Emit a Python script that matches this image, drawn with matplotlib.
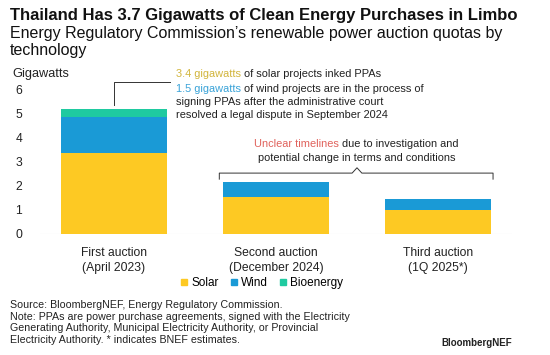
import matplotlib
matplotlib.use("Agg")
import matplotlib.pyplot as plt
from matplotlib.lines import Line2D
import numpy as np

plt.rcParams['font.family'] = ['Liberation Sans', 'DejaVu Sans']

# Data (GW)
auctions = ["First auction\n(April 2023)", "Second auction\n(December 2024)", "Third auction\n(1Q 2025*)"]
solar = [3.37, 1.55, 1.0]
wind = [1.49, 0.6, 0.45]
bioenergy = [0.32, 0.0, 0.0]
yticks = [0, 1, 2, 3, 4, 5, 6]

c_solar = "#fdc923"
c_wind = "#1a9ad6"
c_bio = "#1fcaa0"
c_text = "#222222"

W, H = 550, 355
fig = plt.figure(figsize=(W / 100, H / 100), dpi=100)


def px(x, y):
    return x / W, 1 - y / H


# axes placed so that 0 sits at y=234px and 6 at y=89px
ax = fig.add_axes([40 / W, 1 - 234 / H, 472 / W, (234 - 89) / H])
x = np.arange(len(auctions))
w = 0.66
ax.bar(x, solar, w, color=c_solar, label="Solar")
ax.bar(x, wind, w, bottom=solar, color=c_wind, label="Wind")
bot = np.array(solar) + np.array(wind)
ax.bar(x, bioenergy, w, bottom=bot, color=c_bio, label="Bioenergy")

ax.set_xlim(-0.457, 2.457)
ax.set_ylim(0, 6)
ax.set_yticks(yticks)
ax.set_xticks(x)
ax.set_xticklabels(auctions, fontsize=8.7, linespacing=1.35)
for s in ax.spines.values():
    s.set_visible(False)
ax.tick_params(axis='both', length=0, labelsize=8.7, colors=c_text)
ax.tick_params(axis='y', pad=13)
ax.tick_params(axis='x', pad=9)
ax.axhline(0, color="#e6e6e6", lw=0.8, zorder=0)

# leader line for first auction
top1 = bot[0] + bioenergy[0]
ax.plot([x[0], x[0], x[0] + 0.346], [top1 + 0.15, 6.28, 6.28], color="#333333", lw=0.7, clip_on=False)

# bracket over second and third auction
bl = x[1] - w / 2 - 0.02
br = x[2] + w / 2 + 0.01
bm = (x[1] + x[2]) / 2
by = 2.52
ax.plot([bl, bl, bm - 0.03, bm, bm + 0.03, br, br],
        [by - 0.25, by, by, by + 0.22, by, by, by - 0.25],
        color="#333333", lw=0.7, clip_on=False)

# title and subtitle
fig.text(*px(10, 15.5), "Thailand Has 3.7 Gigawatts of Clean Energy Purchases in Limbo",
         fontsize=12, fontweight='bold', va='center', ha='left', color="#111111")
fig.text(*px(10, 42), "Energy Regulatory Commission\u2019s renewable power auction quotas by\ntechnology",
         fontsize=11.5, va='center', ha='left', linespacing=1.12, color="#111111")
fig.text(*px(12, 74), "Gigawatts", fontsize=9.2, va='center', ha='left', color=c_text)


def colored(xp, yp, first, rest, color, size=7.95):
    t1 = fig.text(*px(xp, yp), first, color=color, fontsize=size, va='baseline', ha='left')
    ax.annotate(" " + rest, xy=(1, 0), xycoords=t1, fontsize=size, va='bottom', ha='left',
                annotation_clip=False, color=c_text)
    return t1


colored(176, 77, "3.4 gigawatts", "of solar projects inked PPAs", "#d2b53c")
colored(176, 91.5, "1.5 gigawatts", "of wind projects are in the process of", "#3aa3d8")
fig.text(*px(176, 105), "signing PPAs after the administrative court", fontsize=7.95,
         va='baseline', ha='left', color=c_text)
fig.text(*px(176, 118), "resolved a legal dispute in September 2024", fontsize=7.95,
         va='baseline', ha='left', color=c_text)

# centred two-colour line: measure widths first
fig.canvas.draw()
r = fig.canvas.get_renderer()
ta = fig.text(0, 0, "Unclear timelines", fontsize=7.95, color="#e0625c")
tb = fig.text(0, 0, " due to investigation and", fontsize=7.95, color=c_text)
wa = ta.get_window_extent(r).width
wb = tb.get_window_extent(r).width
x0 = 356.5 - (wa + wb) / 2
ta.set_position(px(x0, 147))
ta.set_va('baseline')
tb.set_position(px(x0 + wa, 147))
tb.set_va('baseline')
fig.text(*px(356.5, 160.5), "potential change in terms and conditions", fontsize=7.95,
         va='baseline', ha='center', color=c_text)

# legend
handles = [Line2D([], [], marker='s', ls='', color=c, markersize=5) for c in (c_solar, c_wind, c_bio)]
fig.legend(handles, ["Solar", "Wind", "Bioenergy"], loc='center', bbox_to_anchor=px(262, 283),
           ncol=3, frameon=False, fontsize=8.5, handlelength=0.6, handletextpad=0.3,
           columnspacing=1.0, borderpad=0)

# footnotes
notes = ("Source: BloombergNEF, Energy Regulatory Commission.\n"
         "Note: PPAs are power purchase agreements, signed with the Electricity\n"
         "Generating Authority, Municipal Electricity Authority, or Provincial\n"
         "Electricity Authority. * indicates BNEF estimates.")
fig.text(*px(10, 322.5), notes, fontsize=7.7, va='center', ha='left', linespacing=1.17, color=c_text)
fig.text(*px(512, 342.5), "BloombergNEF", fontsize=7.0, fontweight='bold', va='center', ha='right',
         color=c_text)

fig.savefig("out.png", dpi=100)
